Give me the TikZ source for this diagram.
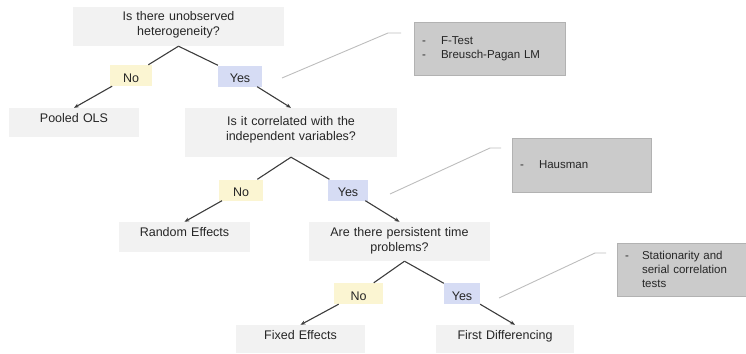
\documentclass[tikz,border=0pt]{standalone}
\usepackage{fontspec}
\setmainfont{Liberation Sans}
\usetikzlibrary{arrows.meta}
\definecolor{boxGrey}{HTML}{F2F2F2}
\definecolor{noYellow}{HTML}{FBF5D2}
\definecolor{yesBlue}{HTML}{D6DCF4}
\definecolor{testGrey}{HTML}{CBCBCB}
\definecolor{testEdge}{HTML}{B2B2B2}
\definecolor{lineDark}{HTML}{3C3C3C}
\definecolor{lineLight}{HTML}{BDBDBD}
\definecolor{txtGrey}{HTML}{262626}

\begin{document}
\begin{tikzpicture}[
  x=1pt, y=-1pt,
  qbox/.style={fill=boxGrey, inner sep=0pt, align=center, text=txtGrey,
               text height=14pt, font=\fontsize{12.5}{15}\selectfont},
  ans/.style={inner sep=0pt, minimum height=21pt, text=txtGrey,
              text height=13pt, text depth=0pt, font=\fontsize{12.5}{15}\selectfont},
  testbox/.style={fill=testGrey, draw=testEdge, inner xsep=8pt, inner ysep=0pt,
                  align=left, text=txtGrey, font=\fontsize{11.5}{14}\selectfont},
  link/.style={draw=lineDark, line width=1.1pt},
  arr/.style={link, -{Stealth[length=5pt,width=4pt]}},
  callout/.style={draw=lineLight, line width=0.9pt}
]
  \useasboundingbox (0,0) rectangle (746,353);

  % questions and outcomes
  \node[qbox, text width=211pt, text depth=25pt] (q1) at (178.5,26.5)
    {Is there unobserved\\heterogeneity?};
  \node[qbox, text width=130pt, text depth=15pt] (pooled) at (74,122.5) {Pooled OLS};
  \node[qbox, text width=212pt, text height=17pt, text depth=32pt] (q2) at (291,132.5)
    {Is it correlated with the\\independent variables?};
  \node[qbox, text width=131pt, text depth=16pt] (random) at (184.5,237) {Random Effects};
  \node[qbox, text width=181pt, text depth=25pt] (q3) at (399.5,241.5)
    {Are there persistent time\\problems?};
  \node[qbox, text width=129pt, text depth=14pt] (fixed) at (300.5,339) {Fixed Effects};
  \node[qbox, text width=138pt, text depth=14pt] (firstdiff) at (505,339) {First Differencing};

  % answers
  \node[ans, fill=noYellow, minimum width=42pt] (no1)  at (131,75.5)  {No};
  \node[ans, fill=yesBlue,  minimum width=44pt] (yes1) at (240,76)    {Yes};
  \node[ans, fill=noYellow, minimum width=44pt] (no2)  at (241,190)   {No};
  \node[ans, fill=yesBlue,  minimum width=40pt] (yes2) at (348,190)   {Yes};
  \node[ans, fill=noYellow, minimum width=49pt] (no3)  at (358.5,293.5) {No};
  \node[ans, fill=yesBlue,  minimum width=36pt] (yes3) at (462,293.5) {Yes};

  % tests
  \node[testbox, text width=135pt, minimum height=53pt] (ftest) at (489.5,48.5)
    {\makebox[19pt][l]{-}F-Test\\\makebox[19pt][l]{-}Breusch-Pagan LM};
  \node[testbox, text width=123pt, minimum height=54pt] (hausman) at (581.5,165)
    {\makebox[19pt][l]{-}Hausman};
  \node[testbox, text width=113pt, minimum height=53pt] (station) at (681.5,269.5)
    {\makebox[17pt][l]{-}Stationarity and\\\hspace*{17pt}serial correlation\\\hspace*{17pt}tests};

  % tree
  \draw[link] (q1.south) -- (no1);
  \draw[link] (q1.south) -- (yes1);
  \draw[arr] (no1) -- (pooled.north);
  \draw[arr] (yes1) -- (q2.north);
  \draw[link] (q2.south) -- (no2);
  \draw[link] (q2.south) -- (yes2);
  \draw[arr] (no2) -- (random.north);
  \draw[arr] (yes2) -- (q3.north);
  \draw[link] ([xshift=5pt]q3.south) -- (no3);
  \draw[link] ([xshift=5pt]q3.south) -- (yes3);
  \draw[arr] (no3) -- (fixed.north);
  \draw[arr] (yes3) -- ([xshift=10pt]firstdiff.north);

  % callout lines
  \coordinate (ft1) at (282,78);  \coordinate (ft2) at (388,33);  \coordinate (ft3) at (401,33);
  \coordinate (ha1) at (390,194); \coordinate (ha2) at (490,148); \coordinate (ha3) at (501,148);
  \coordinate (st1) at (499,298); \coordinate (st2) at (595,253); \coordinate (st3) at (606,253);
  \draw[callout] (ft1) -- (ft2) -- (ft3);
  \draw[callout] (ha1) -- (ha2) -- (ha3);
  \draw[callout] (st1) -- (st2) -- (st3);
\end{tikzpicture}
\end{document}
